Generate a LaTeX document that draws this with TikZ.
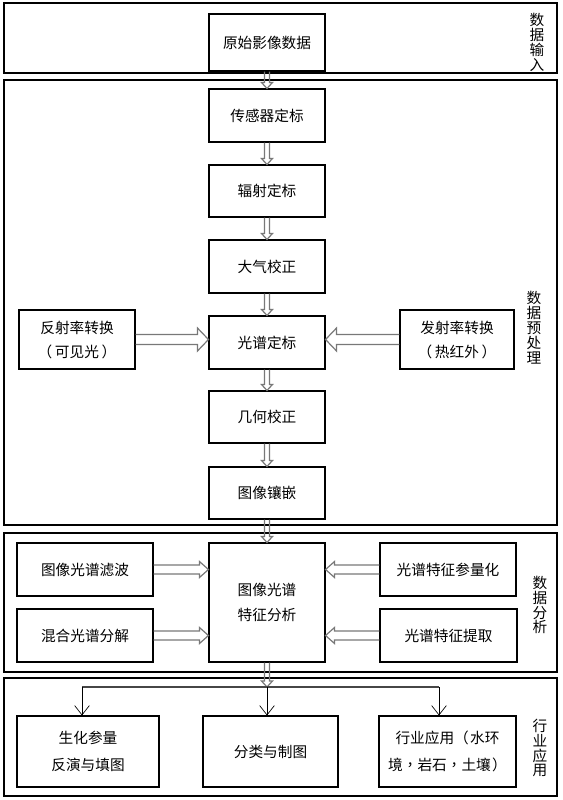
\documentclass[tikz,border=0pt]{standalone}
\usepackage{fontspec}
\setmainfont{Noto Sans CJK SC}
\newfontfamily\tcfont{Noto Sans CJK TC}
\usetikzlibrary{calc,arrows.meta}
\definecolor{arrgray}{RGB}{120,120,120}
\definecolor{linegray}{RGB}{70,70,70}
\newcommand\tcp[1]{{\tcfont #1}}
\tikzset{
  box/.style={draw, line width=0.8pt, inner sep=0pt, align=center,
    font=\fontsize{11pt}{18pt}\selectfont},
  secbox/.style={draw, line width=0.8pt, inner sep=0pt},
  lab/.style={inner sep=0pt, align=center, font=\fontsize{11pt}{11.2pt}\selectfont},
  harrowd/.style={draw=arrgray, line width=0.9pt, line join=miter,
    to path={($(\tikztostart)+(-2.5,0)$) -- ($(\tikztotarget)+(-2.5,-6)$)
      -- ($(\tikztotarget)+(-5.5,-6)$) -- (\tikztotarget)
      -- ($(\tikztotarget)+(5.5,-6)$) -- ($(\tikztotarget)+(2.5,-6)$)
      -- ($(\tikztostart)+(2.5,0)$)}},
  harrowr/.style n args={3}{draw=arrgray, line width=0.9pt, line join=miter,
    to path={($(\tikztostart)+(0,-#1)$) -- ($(\tikztotarget)+(-#3,-#1)$)
      -- ($(\tikztotarget)+(-#3,-#2)$) -- (\tikztotarget)
      -- ($(\tikztotarget)+(-#3,#2)$) -- ($(\tikztotarget)+(-#3,#1)$)
      -- ($(\tikztostart)+(0,#1)$)}},
  harrowl/.style n args={3}{draw=arrgray, line width=0.9pt, line join=miter,
    to path={($(\tikztostart)+(0,-#1)$) -- ($(\tikztotarget)+(#3,-#1)$)
      -- ($(\tikztotarget)+(#3,-#2)$) -- (\tikztotarget)
      -- ($(\tikztotarget)+(#3,#2)$) -- ($(\tikztotarget)+(#3,#1)$)
      -- ($(\tikztostart)+(0,#1)$)}},
  branch/.style={draw=linegray, line width=0.8pt},
  simplearr/.style={draw=black, line width=0.75pt,
    -{Straight Barb[length=7pt,width=11pt,line width=0.5pt]}},
}
\newcommand\placebox[7][box]{\node[#1, minimum width={(#5-#3)*0.75pt}, minimum height={(#6-#4)*0.75pt}] (#2) at ({(#3+#5)/2},{(#4+#6)/2}) {#7};}
\begin{document}
\begin{tikzpicture}[x=0.75pt, y=-0.75pt]
\useasboundingbox (0,0) rectangle (562,800);
% sections
\placebox[secbox]{s1}{4}{3}{557}{73}{}
\placebox[secbox]{s2}{4}{80}{557}{525}{}
\placebox[secbox]{s3}{4}{533}{557}{672}{}
\placebox[secbox]{s4}{4}{678}{557}{796}{}
% section labels
\node[lab] (l1) at (537,42) {数\\据\\输\\入};
\node[lab] (l2) at (534,328) {数\\据\\预\\处\\理};
\node[lab] (l3) at (540,605) {数\\据\\分\\析};
\node[lab] (l4) at (540,748) {行\\业\\应\\用};
% main column
\placebox{n0}{209}{14}{325}{71}{原始影像数据}
\placebox{n1}{209}{89}{325}{142}{传感器定标}
\placebox{n2}{209}{165}{325}{217}{辐射定标}
\placebox{n3}{209}{240}{325}{293}{大气校正}
\placebox{n4}{209}{316}{325}{369}{光谱定标}
\placebox{n5}{209}{391}{325}{443}{几何校正}
\placebox{n6}{209}{467}{325}{519}{图像镶嵌}
\placebox[box, font=\fontsize{11pt}{18.8pt}\selectfont]{n7}{209}{543}{325}{662}{图像光谱\\特征分析}
% side boxes
\placebox{fs}{19}{310}{135}{369}{反射率转换\\（\kern2pt 可见光\kern2pt ）}
\placebox{es}{400}{310}{514}{369}{发射率转换\\（\kern2pt 热红外\kern2pt ）}
\placebox{a1}{17}{543}{153}{596}{图像光谱滤波}
\placebox{a2}{17}{609}{153}{662}{混合光谱分解}
\placebox{b1}{380}{543}{516}{596}{光谱特征参量化}
\placebox{b2}{380}{609}{517}{662}{光谱特征提取}
% application boxes
\placebox[box, font=\fontsize{11pt}{20pt}\selectfont]{c1}{17}{716}{159}{787}{生化参量\\反演与填图}
\placebox{c2}{203}{716}{338}{787}{分类与制图}
\placebox[box, font=\fontsize{11pt}{20pt}\selectfont]{c3}{379}{716}{516}{787}{行业应用（\kern1pt 水环\\境\tcp{，}岩石\tcp{，}土壤\kern1pt ）}
% vertical hollow arrows
\draw[harrowd] (n0.south) to (n1.north);
\draw[harrowd] (n1.south) to (n2.north);
\draw[harrowd] (n2.south) to (n3.north);
\draw[harrowd] (n3.south) to (n4.north);
\draw[harrowd] (n4.south) to (n5.north);
\draw[harrowd] (n5.south) to (n6.north);
\draw[harrowd] (n6.south) to (n7.north);
% horizontal hollow arrows
\draw[harrowr={5}{11.5}{11}] (fs.east) to (fs.east -| n4.west);
\draw[harrowl={5}{11.5}{11}] (es.west) to (es.west -| n4.east);
\draw[harrowr={4.5}{8}{9}] (a1.east) to (a1.east -| n7.west);
\draw[harrowr={4.5}{8}{9}] (a2.east) to (a2.east -| n7.west);
\draw[harrowl={4.5}{8}{9}] (b1.west) to (b1.west -| n7.east);
\draw[harrowl={4.5}{8}{9}] (b2.west) to (b2.west -| n7.east);
% branching to applications
\coordinate (j) at (267,687);
\coordinate (jl) at (82,687);
\coordinate (jr) at (439,687);
\draw[harrowd] (n7.south) to (j);
\draw[branch] (jl) -- (jr);
\draw[simplearr] (jl) -- (jl |- c1.north);
\draw[simplearr] (j) -- (j |- c2.north);
\draw[simplearr] (jr) -- (jr |- c3.north);
\end{tikzpicture}
\end{document}
